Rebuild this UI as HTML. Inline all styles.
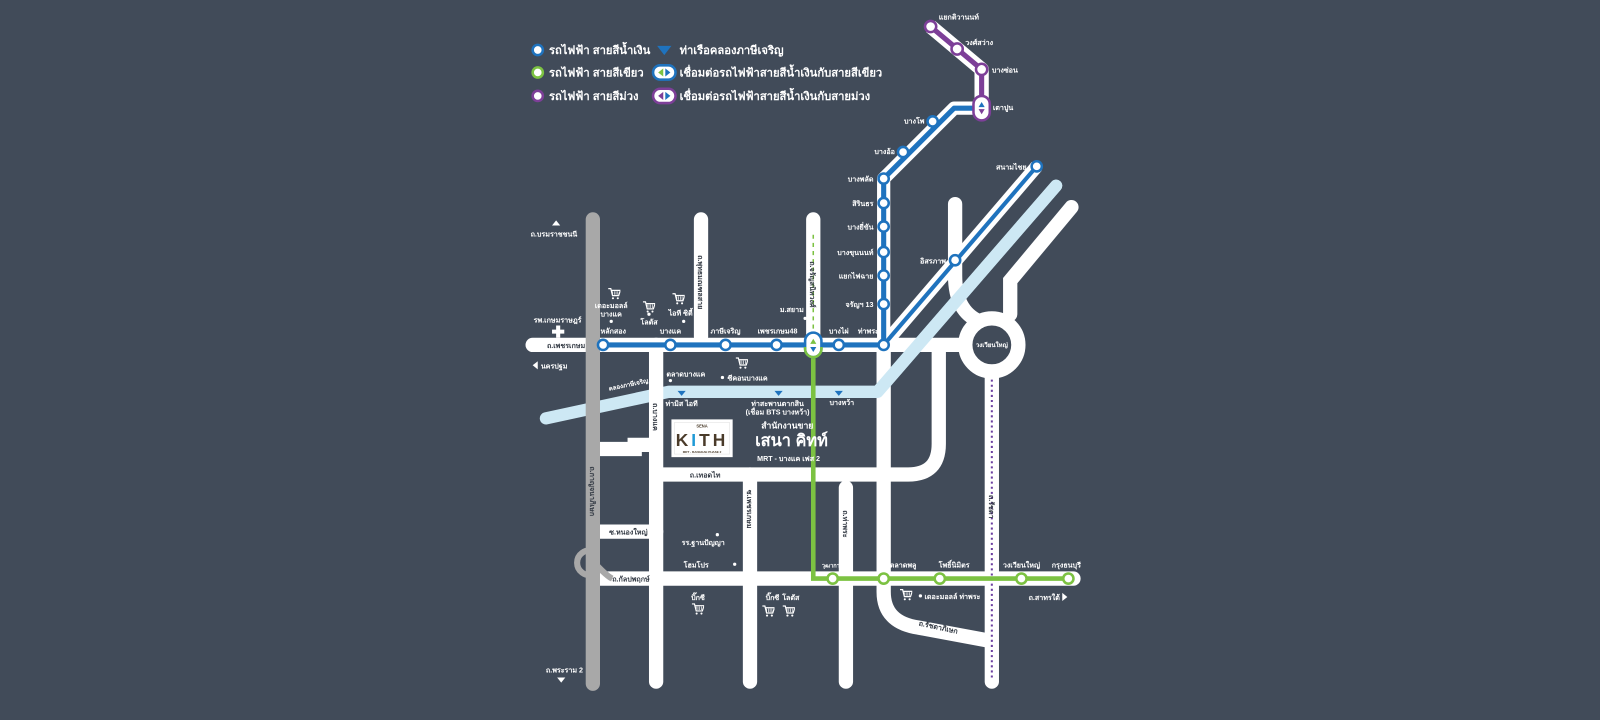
<!DOCTYPE html>
<html><head><meta charset="utf-8"><style>
html,body{margin:0;padding:0;background:#414b59;width:1600px;height:720px;overflow:hidden;}
svg{display:block;}
text{font-family:"Liberation Sans","Noto Sans CJK SC",sans-serif;font-weight:bold;}
</style></head><body>
<svg width="1600" height="720" viewBox="0 0 1568 705.6" xmlns="http://www.w3.org/2000/svg">
<defs>
<symbol id="cart" viewBox="0 0 14 14"><path d="M0 1h3l2 8h7l2-6H4" fill="none" stroke="#fff" stroke-width="1.4"/><path d="M5 4v4M7 4v4M9 4v4M11 4v4" stroke="#fff" stroke-width="0.8"/><circle cx="5.5" cy="12" r="1.2" fill="#fff"/><circle cx="11" cy="12" r="1.2" fill="#fff"/></symbol>
</defs>
<rect width="1568" height="706" fill="#414b59"/>

<g stroke="#cde8f4" stroke-width="12" fill="none" stroke-linecap="round">
<path d="M1035 182 L860 384 L655 384 L535 410"/>
</g>

<g stroke="#fff" stroke-width="14" fill="none" stroke-linecap="round">
<path d="M522 338 H945"/>
<path d="M687 215 V330"/>
<path d="M797 215 V338"/>
<path d="M866 338 V580 Q866 610 900 615 L970 628" stroke-linecap="butt"/>
<path d="M643 338 V668"/>
<path d="M735 465 V668"/>
<path d="M829 478 V668"/>
<path d="M972 370 V668"/>
<path d="M587 567 H1052"/>
<path d="M587 521 H643"/>
<path d="M587 440 H622 V436 H643" stroke-linecap="butt"/>
<path d="M643 465 H890 Q920 465 920 435 V338" stroke-linecap="butt"/>
<path d="M936 200 V270 Q936 305 960 315"/>
<path d="M1050 203 L990 275 V308"/>
</g>
<circle cx="972" cy="338" r="26" fill="none" stroke="#fff" stroke-width="14"/>
<text x="972" y="340" font-size="6" fill="#fff" text-anchor="middle">วงเวียนใหญ่</text>

<path d="M581 215 V670" stroke="#a8a8a8" stroke-width="14" stroke-linecap="round"/>
<path d="M581 540 A12 12 0 1 0 581 563" stroke="#a8a8a8" stroke-width="6" fill="none"/>
<path d="M581 550 Q595 565 600 567" stroke="#a8a8a8" stroke-width="6" fill="none"/>

<path d="M1035 182 L860 384" stroke="#cde8f4" stroke-width="12" stroke-linecap="round"/>
<path d="M860 384 L655 384" stroke="#cde8f4" stroke-width="12"/>

<path d="M972 372 V665" stroke="#6b3fa0" stroke-width="2" stroke-dasharray="2 3"/>
<path d="M797 230 V322" stroke="#7cc242" stroke-width="1.5" stroke-dasharray="4 4"/>

<path d="M912 26 L962 68 V106" stroke="#fff" stroke-width="14" fill="none" stroke-linejoin="round"/>
<path d="M912 26 L962 68 V106" stroke="#7d3f98" stroke-width="5" fill="none"/>

<g fill="none" stroke-linejoin="round">
<path d="M962 106 H935 L866 175 V338 H797 M866 338 L1016 163" stroke="#fff" stroke-width="13"/>
<path d="M866 338 L1016 163" stroke="#1f73be" stroke-width="4"/>
<path d="M962 106 H935 L866 175 V338 H591" stroke="#1f73be" stroke-width="5"/>
</g>
<path d="M797 345 V567 H1047" stroke="#7cc242" stroke-width="4.5" fill="none"/>

<g stroke-width="2.5" fill="#fff">
<g stroke="#7d3f98"><circle cx="912" cy="26" r="5.5"/><circle cx="938" cy="48" r="5.5"/><circle cx="962" cy="68" r="5.5"/></g>
<g stroke="#1f73be">
<circle cx="914" cy="119" r="5"/><circle cx="885" cy="149" r="5"/><circle cx="866" cy="175" r="5"/><circle cx="866" cy="199" r="5"/><circle cx="866" cy="222" r="5"/><circle cx="866" cy="247" r="5"/><circle cx="866" cy="270" r="5"/><circle cx="866" cy="298" r="5"/><circle cx="866" cy="338" r="5"/>
<circle cx="822" cy="338" r="5"/><circle cx="761" cy="338" r="5"/><circle cx="711" cy="338" r="5"/><circle cx="657" cy="338" r="5"/><circle cx="591" cy="338" r="5"/>
<circle cx="936" cy="255" r="5"/><circle cx="1016" cy="163" r="5"/></g>
<g stroke="#7cc242"><circle cx="816" cy="567" r="5"/><circle cx="866" cy="567" r="5"/><circle cx="921" cy="567" r="5"/><circle cx="1001" cy="567" r="5"/><circle cx="1047" cy="567" r="5"/></g>
</g>
<rect x="954" y="94" width="16" height="24" rx="8" fill="#fff" stroke="#7d3f98" stroke-width="2.5"/>
<path d="M962 100 l-3 5h6z" fill="#1f73be"/><path d="M962 112 l-3 -5h6z" fill="#7d3f98"/>
<rect x="789" y="326" width="16" height="24" rx="8" fill="#fff" stroke="#1f73be" stroke-width="2.5"/>
<path d="M789 340 V342 A8 8 0 0 0 805 342 V340" fill="none" stroke="#7cc242" stroke-width="2.5"/>
<path d="M797 332 l-3 5h6z" fill="#7cc242"/><path d="M797 345 l-3 -5h6z" fill="#1f73be"/>

<g font-size="11" fill="#fff">
<circle cx="527" cy="49" r="5" fill="#fff" stroke="#1f73be" stroke-width="2.5"/><text x="538" y="53">รถไฟฟ้า สายสีน้ำเงิน</text>
<circle cx="527" cy="71" r="5" fill="#fff" stroke="#7cc242" stroke-width="2.5"/><text x="538" y="75">รถไฟฟ้า สายสีเขียว</text>
<circle cx="527" cy="94" r="5" fill="#fff" stroke="#7d3f98" stroke-width="2.5"/><text x="538" y="98">รถไฟฟ้า สายสีม่วง</text>
<path d="M644 45 h14 l-7 9z" fill="#1f73be"/><text x="666" y="53">ท่าเรือคลองภาษีเจริญ</text>
<rect x="640" y="64" width="22" height="14" rx="7" fill="#fff" stroke="#1f73be" stroke-width="2.5"/><path d="M650 67 l-5 4 5 4z" fill="#7cc242"/><path d="M652 67 l5 4 -5 4z" fill="#1f73be"/>
<text x="666" y="75">เชื่อมต่อรถไฟฟ้าสายสีน้ำเงินกับสายสีเขียว</text>
<rect x="640" y="87" width="22" height="14" rx="7" fill="#fff" stroke="#7d3f98" stroke-width="2.5"/><path d="M650 90 l-5 4 5 4z" fill="#7d3f98"/><path d="M652 90 l5 4 -5 4z" fill="#1f73be"/>
<text x="666" y="98">เชื่อมต่อรถไฟฟ้าสายสีน้ำเงินกับสายม่วง</text>
</g>

<g font-size="7" fill="#fff">
<text x="920" y="19">แยกติวานนท์</text><text x="946" y="44">วงศ์สว่าง</text><text x="972" y="71">บางซ่อน</text><text x="973" y="108">เตาปูน</text>
<g text-anchor="end"><text x="906" y="121">บางโพ</text><text x="877" y="151">บางอ้อ</text><text x="856" y="178">บางพลัด</text><text x="856" y="202">สิรินธร</text><text x="856" y="225">บางยี่ขัน</text><text x="856" y="250">บางขุนนนท์</text><text x="856" y="273">แยกไฟฉาย</text><text x="856" y="301">จรัญฯ 13</text><text x="927" y="258">อิสรภาพ</text><text x="1006" y="166">สนามไชย</text></g>
<g text-anchor="middle"><text x="601" y="327">หลักสอง</text><text x="657" y="327">บางแค</text><text x="711" y="327">ภาษีเจริญ</text><text x="762" y="327">เพชรเกษม48</text><text x="822" y="327">บางไผ่</text><text x="851" y="327">ท่าพระ</text>
<text x="816" y="556" font-size="5.5">วุฒากาศ</text><text x="885" y="556">ตลาดพลู</text><text x="935" y="556">โพธิ์นิมิตร</text><text x="1001" y="556">วงเวียนใหญ่</text><text x="1045" y="556">กรุงธนบุรี</text></g>
</g>

<g font-size="7" fill="#fff">
<path d="M541 221 l4 -5 4 5z" fill="#fff"/><text x="520" y="232">ถ.บรมราชชนนี</text>
<text x="523" y="316">รพ.เกษมราษฎร์</text><path d="M545 319 h4 v4 h4 v4 h-4 v4 h-4 v-4 h-4 v-4 h4z" fill="#fff"/>
<path d="M522 358 l5 -4 v8z" fill="#fff"/><text x="530" y="361">นครปฐม</text>
<text x="535" y="659">ถ.พระราม 2</text><path d="M546 664 h8 l-4 5z" fill="#fff"/>
<text x="1008" y="588">ถ.สาทรใต้</text><path d="M1041 581 l5 4 -5 4z" fill="#fff"/>
<g text-anchor="middle"><text x="599" y="302">เดอะมอลล์</text><text x="599" y="310">บางแค</text><circle cx="599" cy="315" r="1.6"/>
<text x="636" y="318">โลตัส</text><circle cx="636" cy="308" r="1.6"/>
<text x="667" y="309">ไอที ซิตี้</text><circle cx="670" cy="315" r="1.6"/>
<text x="776" y="306">ม.สยาม</text><circle cx="789" cy="312" r="1.6"/>
<text x="668" y="398">ท่ามิส ไอที</text><text x="762" y="398">ท่าสะพานตากสิน</text><text x="762" y="406">(เชื่อม BTS บางหว้า)</text><text x="825" y="397">บางหว้า</text>
<text x="684" y="588">บิ๊กซี</text><text x="757" y="588">บิ๊กซี</text><text x="775" y="588">โลตัส</text></g>
<text x="653" y="369">ตลาดบางแค</text><circle cx="657" cy="373" r="1.6"/>
<circle cx="708" cy="370" r="1.6"/><text x="713" y="373">ซีคอนบางแค</text>
<circle cx="703" cy="524" r="1.6"/><text x="668" y="534">รร.ฐานปัญญา</text>
<text x="670" y="556">โฮมโปร</text><circle cx="720" cy="553" r="1.6"/>
<circle cx="902" cy="584" r="1.6"/><text x="906" y="587">เดอะมอลล์ ท่าพระ</text>
<text x="597" y="383" transform="rotate(-12 597 383)" font-size="6">คลองภาษีเจริญ</text>
</g>
<g fill="#1f73be"><path d="M664 383 h8 l-4 5z"/><path d="M759 383 h8 l-4 5z"/><path d="M818 383 h8 l-4 5z"/></g>
<g>
<use href="#cart" x="596" y="282" width="12" height="12"/><use href="#cart" x="630" y="295" width="12" height="12"/><use href="#cart" x="659" y="287" width="12" height="12"/><use href="#cart" x="721" y="350" width="12" height="12"/><use href="#cart" x="678" y="591" width="12" height="12"/><use href="#cart" x="747" y="593" width="12" height="12"/><use href="#cart" x="767" y="593" width="12" height="12"/><use href="#cart" x="882" y="577" width="12" height="12"/>
</g>

<g font-size="7" fill="#333a44">
<text x="536" y="341">ถ.เพชรเกษม</text>
<text x="597" y="524">ซ.หนองใหญ่</text>
<text x="600" y="570">ถ.กัลปพฤกษ์</text>
<text x="676" y="468">ถ.เทอดไท</text>
<text x="900" y="613" transform="rotate(12 900 613)">ถ.รัชดาภิเษก</text>
<text transform="translate(578 457) rotate(90)">ถ.กาญจนาภิเษก</text>
<text transform="translate(684 250) rotate(90)">ถ.พุทธมณฑลสาย</text>
<text transform="translate(640 395) rotate(90)">ถ.บางแค</text>
<text transform="translate(732 480) rotate(90)">ซ.เพชรเกษม</text>
<text transform="translate(794 256) rotate(90)">ถ.จรัญสนิทวงศ์</text>
<text transform="translate(826 500) rotate(90)">ถ.ท่าพระ</text>
<text transform="translate(969 485) rotate(90)">ถ.รัชดา</text>
</g>

<rect x="658" y="411" width="60" height="37" fill="#fff"/>
<rect x="661" y="414" width="54" height="31" fill="none" stroke="#ddd" stroke-width="0.5"/>
<text x="688" y="419" font-size="4" fill="#4a3b2a" text-anchor="middle">SENA</text>
<text x="688" y="437" font-size="17" fill="#4a3b2a" text-anchor="middle" letter-spacing="3" font-weight="normal">K<tspan fill="#1f9ad6">I</tspan>TH</text>
<text x="688" y="444" font-size="3" fill="#4a3b2a" text-anchor="middle">MRT - BANGKAE PHASE 2</text>
<g fill="#fff"><text x="746" y="420" font-size="8.5">สำนักงานขาย</text><text x="740" y="437" font-size="16">เสนา คิทท์</text><text x="742" y="452" font-size="7">MRT - บางแค เฟส 2</text></g>
</svg>
</body></html>
